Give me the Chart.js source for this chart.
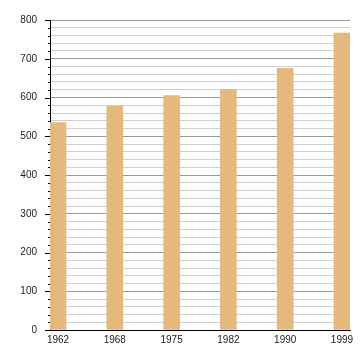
<!DOCTYPE html>
<html>
<head>
<meta charset="utf-8">
<script src="https://cdn.jsdelivr.net/npm/chart.js@4"></script>
<style>
  html, body { margin: 0; padding: 0; background: #fff; }
  #wrap { width: 360px; height: 360px; }
</style>
</head>
<body>
<div id="wrap"><canvas id="popChart"></canvas></div>
<script>
// Năm (danh mục) và giá trị từng cột
const years = ['1962', '1968', '1975', '1982', '1990', '1999'];
const values = [535, 578, 605, 621, 675, 766];
// Nhãn trục y
const yTicks = [0, 100, 200, 300, 400, 500, 600, 700, 800];
const yMinorStep = 20;

const barWidth = 16;

// Vạch chia nhỏ / lớn bên trái trục y
const tickMarks = {
    id: 'tickMarks',
    afterDraw(chart) {
        const y = chart.scales.y;
        const ctx = chart.ctx;
        const x0 = chart.chartArea.left;
        ctx.save();
        ctx.strokeStyle = '#000';
        ctx.lineWidth = 1;
        y.ticks.forEach(t => {
            const py = Math.round(y.getPixelForValue(t.value)) + 0.5;
            const len = yTicks.includes(t.value) ? 5 : 2;
            ctx.beginPath();
            ctx.moveTo(x0 - len, py);
            ctx.lineTo(x0, py);
            ctx.stroke();
        });
        ctx.restore();
    }
};

window.onload = function () {
    const ctx = document.getElementById('popChart').getContext('2d');
    new Chart(ctx, {
        type: 'bar',
        data: {
            datasets: [{
                data: values.map((v, i) => ({ x: i, y: v })),
                backgroundColor: '#e5b97e',
                barThickness: barWidth
            }]
        },
        options: {
            responsive: true,
            maintainAspectRatio: false,
            animation: false,
            layout: { padding: { top: 20, right: 10, left: 0, bottom: 0 } },
            plugins: { legend: { display: false }, tooltip: { enabled: false } },
            scales: {
                x: {
                    type: 'linear',
                    offset: false,
                    min: -0.141,
                    max: 5.141,
                    afterBuildTicks(scale) {
                        scale.ticks = years.map((_, i) => ({ value: i }));
                    },
                    afterFit(scale) { scale.height = 30; },
                    grid: { display: false, drawTicks: false, offset: false },
                    border: { display: true, color: '#000', width: 1 },
                    ticks: {
                        autoSkip: false,
                        maxRotation: 0,
                        padding: 4,
                        color: '#222',
                        font: { family: 'Liberation Sans, Arial', size: 10 },
                        callback: v => years[v]
                    }
                },
                y: {
                    min: 0,
                    max: 800,
                    afterBuildTicks(scale) {
                        const t = [];
                        for (let v = yTicks[0]; v <= yTicks[yTicks.length - 1]; v += yMinorStep) t.push({ value: v });
                        scale.ticks = t;
                    },
                    afterFit(scale) { scale.width = 50; },
                    grid: {
                        drawTicks: false,
                        color: c => (c.tick && yTicks.includes(c.tick.value)) ? '#999' : '#cfcfcf'
                    },
                    border: { display: true, color: '#000', width: 1 },
                    ticks: {
                        autoSkip: false,
                        padding: 13,
                        color: '#222',
                        font: { family: 'Liberation Sans, Arial', size: 10 },
                        callback: v => yTicks.includes(v) ? String(v) : ''
                    }
                }
            }
        },
        plugins: [tickMarks]
    });
};
</script>
</body>
</html>
